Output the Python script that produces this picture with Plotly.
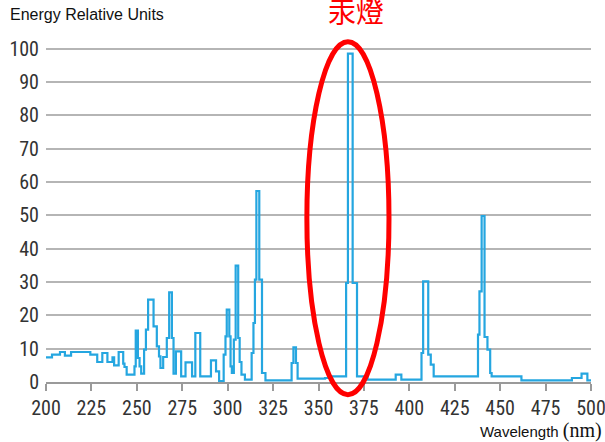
import plotly.graph_objects as go

# Spectrum (step data): wavelength where a level starts, and the level value
wavelength = [200, 203.3, 207.7, 210.4, 213.8, 224.4, 228.2, 231, 233.8, 236.6,
              237.5, 240, 242.5, 243.2, 244.4, 248.7, 249.4, 250.6, 251.5, 252.4,
              254, 255, 256.2, 259.2, 261, 262.2, 263, 264.5, 266.5, 267.8,
              269.3, 270.2, 271.5, 274.4, 276.8, 280.4, 282.2, 284.9, 290.8, 293.6,
              295.3, 297.8, 298.8, 299.5, 300.9, 301.6, 302.3, 303.4, 304.4, 305.8,
              306.6, 307.6, 309.5, 313.2, 314.2, 315, 315.8, 317.4, 318.9, 320.8,
              335.2, 336.2, 337.6, 338.5, 353.6, 356, 365.2, 366.2, 368.8, 371.2,
              377, 392.5, 395.6, 406.7, 407.6, 410.4, 411.8, 413.4, 437.8, 438.6,
              439.8, 441.4, 443, 444.5, 445.3, 461.7, 489.5, 494.8, 498, 500]
energy = [7.4, 8.2, 9, 7.9, 9, 8.2, 6, 8.7, 6, 7.4,
          5, 9, 5.5, 4.5, 2.2, 4.7, 15.4, 7.2, 4.7, 2.5,
          9.7, 15.7, 24.7, 16.7, 10.7, 7.7, 4.2, 7.5, 13.2, 26.9,
          13.2, 2.5, 9.2, 1.7, 5.9, 1.7, 14.7, 1.7, 6.5, 3.2,
          0.3, 8.2, 13.7, 21.7, 13.7, 4.7, 2.7, 12.7, 34.9, 13.2,
          6, 2.2, 0.7, 8.7, 17.7, 30.7, 57.3, 30.7, 2.7, 0.5,
          5.7, 10.4, 5.7, 1, 1.2, 1.7, 29.7, 98.5, 29.7, 1.7,
          0.7, 2.2, 0.7, 8.7, 30.2, 8.2, 5.2, 1.7, 14.2, 27.2,
          49.8, 13.5, 9.7, 2.7, 1.7, 0.5, 1.2, 2.5, 0.5, 0.5]

x_ticks = [200, 225, 250, 275, 300, 325, 350, 375, 400, 425, 450, 475, 500]
y_ticks = [0, 10, 20, 30, 40, 50, 60, 70, 80, 90, 100]

x_range = [200, 500]
y_range = [0, 102]

# Highlight ellipse around the mercury line (in data units)
ell_wl = [343.6, 388.8]
ell_val = [-3.8, 102.1]

narrow = "Liberation Sans Narrow, Arial Narrow, Roboto Condensed, DejaVu Sans Condensed, sans-serif"

fig = go.Figure()
fig.add_trace(go.Scatter(
    x=wavelength, y=energy, mode="lines", line_shape="hv",
    line=dict(color="#25a6e0", width=2.2), hoverinfo="skip", showlegend=False,
))

def px(v):
    return (v - x_range[0]) / (x_range[1] - x_range[0])

def py(v):
    return (v - y_range[0]) / (y_range[1] - y_range[0])

fig.add_shape(type="circle", xref="paper", yref="paper",
              x0=px(ell_wl[0]), x1=px(ell_wl[1]),
              y0=py(ell_val[0]), y1=py(ell_val[1]),
              line=dict(color="#ff0000", width=5))

fig.update_layout(
    width=605, height=442,
    margin=dict(l=46, r=14, t=42, b=60, autoexpand=False),
    paper_bgcolor="white", plot_bgcolor="white",
    xaxis=dict(range=x_range, tickvals=x_ticks, showgrid=False, zeroline=False,
               showline=True, linecolor="#9a9a9a", linewidth=1.5,
               ticks="outside", ticklen=7, tickwidth=1.5, tickcolor="#9a9a9a",
               ticklabeloverflow="allow", automargin=False,
               tickfont=dict(family=narrow, size=20, color="#333333")),
    yaxis=dict(range=y_range, tickvals=y_ticks, showgrid=True, gridcolor="#b5b5b5",
               gridwidth=1.5, zeroline=False, showline=False, ticks="",
               ticklabelstandoff=6, automargin=False,
               tickfont=dict(family=narrow, size=20, color="#333333")),
    annotations=[
        dict(text="Energy Relative Units", xref="paper", yref="paper",
             x=-38/545, y=1 + 28/340, xanchor="left", yanchor="middle",
             showarrow=False, font=dict(family="Liberation Sans, Arial, sans-serif", size=16, color="#111111")),
        dict(text="Wavelength <span style='font-family:" + narrow.split(",")[0] + "; font-size:20px'>(nm)</span>",
             xref="paper", yref="paper", x=1 + 13/545, y=-48/340,
             xanchor="right", yanchor="middle", showarrow=False,
             font=dict(family="Liberation Sans, Arial, sans-serif", size=15, color="#111111")),
        dict(text="汞燈", xref="paper", yref="paper", x=px(ell_wl[0] + (ell_wl[1]-ell_wl[0])/2) + 8/545,
             y=1 + 31/340, xanchor="center", yanchor="middle", showarrow=False,
             font=dict(family="Noto Sans CJK TC, Noto Sans CJK SC, sans-serif", size=28, color="#ff0000")),
    ],
)

fig.write_html("out.html", config={"displayModeBar": False},
               post_script="document.body.style.margin='0';")
